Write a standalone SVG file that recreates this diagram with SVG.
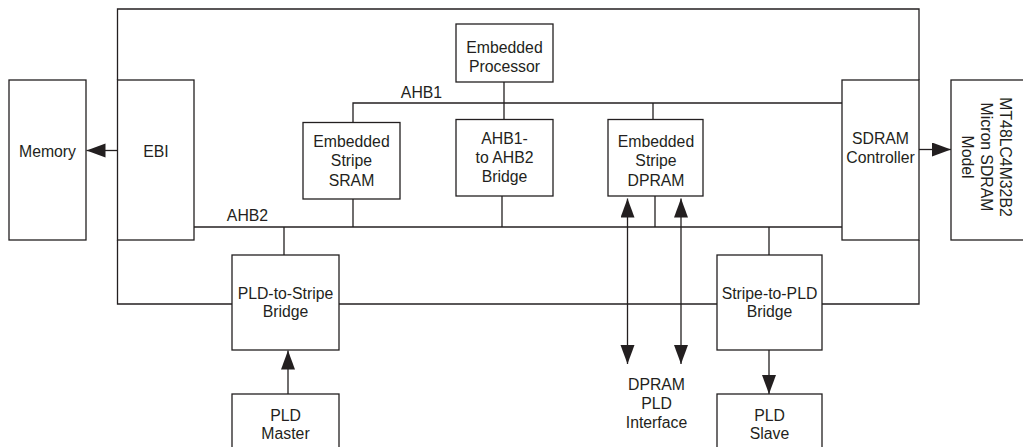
<svg xmlns="http://www.w3.org/2000/svg" width="1023" height="447" viewBox="0 0 1023 447">
<style>
rect.box{fill:#fff;stroke:#231f20;stroke-width:1.3}
.wire{fill:none;stroke:#231f20;stroke-width:1.3}
text{font-family:"Liberation Sans",Arial,sans-serif;font-size:15.8px;fill:#231f20;text-anchor:middle}
</style>
<defs>
<marker id="ah" markerUnits="userSpaceOnUse" markerWidth="20" markerHeight="15" refX="19" refY="7" orient="auto-start-reverse">
<path d="M0,0 L19,7 L0,14 Z" fill="#231f20"/>
</marker>
</defs>
<rect width="1023" height="447" fill="#fff"/>
<g id="connectors">
<path class="wire" d="M117.5,80 V9 H919 V80"/>
<path class="wire" d="M117.5,240 V304 H232"/>
<path class="wire" d="M339,304 H717"/>
<path class="wire" d="M822,304 H919 V240"/>
<path class="wire" d="M353,122 V103 H842"/>
<path class="wire" d="M504,82 V119"/>
<path class="wire" d="M653,103 V119"/>
<path class="wire" d="M194,227 H842"/>
<path class="wire" d="M353,199 V227"/>
<path class="wire" d="M502,196 V227"/>
<path class="wire" d="M655,196 V227"/>
<path class="wire" d="M284,227 V255"/>
<path class="wire" d="M769,227 V255"/>
<path class="wire" d="M117.5,150.5 H86.5" marker-end="url(#ah)"/>
<path class="wire" d="M919,149.5 H951" marker-end="url(#ah)"/>
<path class="wire" d="M627.5,198.5 V364" marker-start="url(#ah)" marker-end="url(#ah)"/>
<path class="wire" d="M681,198.5 V364" marker-start="url(#ah)" marker-end="url(#ah)"/>
<path class="wire" d="M288,394 V350.5" marker-end="url(#ah)"/>
<path class="wire" d="M769,350 V394" marker-end="url(#ah)"/>
<text x="247.5" y="221">AHB2</text>
<text x="421.5" y="98">AHB1</text>
</g>
<g id="memory"><rect class="box" x="9" y="80" width="77" height="160"/><text x="47.5" y="156.5">Memory</text></g>
<g id="ebi"><rect class="box" x="117.5" y="80" width="76.5" height="160"/><text x="156" y="156.5">EBI</text></g>
<g id="processor"><rect class="box" x="456" y="24" width="97" height="58"/><text x="504.5" y="52.5">Embedded</text><text x="504.5" y="71.5">Processor</text></g>
<g id="sram"><rect class="box" x="303" y="122.5" width="97" height="76.5"/><text x="351.5" y="146.5">Embedded</text><text x="351.5" y="165.5">Stripe</text><text x="351.5" y="185.5">SRAM</text></g>
<g id="ahb-bridge"><rect class="box" x="456" y="119.5" width="97" height="76.5"/><text x="504.5" y="143.5">AHB1-</text><text x="504.5" y="163">to AHB2</text><text x="504.5" y="182">Bridge</text></g>
<g id="dpram"><rect class="box" x="608" y="119.5" width="95" height="76.5"/><text x="656" y="146.5">Embedded</text><text x="656" y="165.5">Stripe</text><text x="656" y="185.5">DPRAM</text></g>
<g id="sdram-ctrl"><rect class="box" x="842" y="80" width="77" height="160"/><text x="880.5" y="143.5">SDRAM</text><text x="880.5" y="162.5">Controller</text></g>
<g id="sdram-model"><rect class="box" x="951" y="80" width="80" height="160"/>
<g transform="translate(999.5,157) rotate(90)"><text x="0" y="0">MT48LC4M32B2</text><text x="0" y="19">Micron SDRAM</text><text x="0" y="38">Model</text></g></g>
<g id="pld-to-stripe"><rect class="box" x="232" y="255" width="107" height="95"/><text x="285.5" y="298.5">PLD-to-Stripe</text><text x="285.5" y="317">Bridge</text></g>
<g id="stripe-to-pld"><rect class="box" x="717" y="255" width="105" height="95"/><text x="769.5" y="298.5">Stripe-to-PLD</text><text x="769.5" y="317">Bridge</text></g>
<g id="pld-master"><rect class="box" x="232" y="394" width="107" height="70"/><text x="285.5" y="421">PLD</text><text x="285.5" y="438.5">Master</text></g>
<g id="pld-slave"><rect class="box" x="717" y="394" width="105" height="70"/><text x="769.5" y="421">PLD</text><text x="769.5" y="439">Slave</text></g>
<g id="dpram-pld-if"><text x="656.5" y="389.5">DPRAM</text><text x="656.5" y="409">PLD</text><text x="656.5" y="428">Interface</text></g>
</svg>
